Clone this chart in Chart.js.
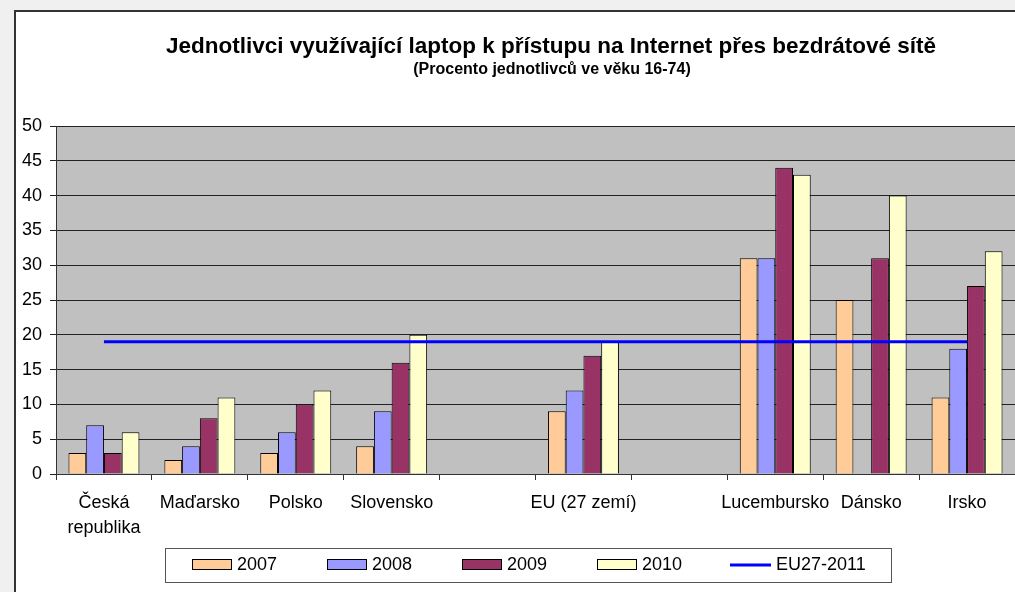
<!DOCTYPE html>
<html><head><meta charset="utf-8">
<script src="https://cdn.jsdelivr.net/npm/chart.js@4/dist/chart.umd.min.js"></script>
<style>html,body{margin:0;padding:0;background:#f0f0f0;overflow:hidden}#wrap{position:absolute;left:0;top:0;width:1015px;height:592px}</style>
</head><body><div id="wrap"><canvas id="c" width="1015" height="592"></canvas></div>
<script>
const titleText = 'Jednotlivci využívající laptop k přístupu na Internet přes bezdrátové sítě';
const subtitleText = '(Procento jednotlivců ve věku 16-74)';
const categories = [['Česká', 'republika'], 'Maďarsko', 'Polsko', 'Slovensko', '', 'EU (27 zemí)', '', 'Lucembursko', 'Dánsko', 'Irsko'];
const seriesNames = ['2007', '2008', '2009', '2010'];
const values2007 = [3, 2, 3, 4, null, 9, null, 31, 25, 11];
const values2008 = [7, 4, 6, 9, null, 12, null, 31, null, 18];
const values2009 = [3, 8, 10, 16, null, 17, null, 44, 31, 27];
const values2010 = [6, 11, 12, 20, null, 19, null, 43, 40, 32];
const lineName = 'EU27-2011';
const lineValues = [19, 19, 19, 19, 19, 19, 19, 19, 19, 19];
const yTickValues = [0, 5, 10, 15, 20, 25, 30, 35, 40, 45, 50];

const FONT = '"Liberation Sans", Arial, sans-serif';
const barColors = ['#FFCC99', '#9999FF', '#993366', '#FFFFCC'];
const barValues = [values2007, values2008, values2009, values2010];

const datasets = seriesNames.map((n, i) => ({
  type: 'bar', label: n, data: barValues[i], backgroundColor: barColors[i],
  borderColor: '#000', borderWidth: 1, order: 1,
  categoryPercentage: 0.74, barPercentage: 1.0
}));
datasets.push({
  type: 'line', label: lineName, data: lineValues, borderColor: '#0000FF',
  borderWidth: 3, pointRadius: 0, fill: false, order: 0, tension: 0
});

const decor = {
  id: 'decor',
  beforeDraw(chart) {
    const ctx = chart.ctx, ca = chart.chartArea;
    ctx.save();
    ctx.fillStyle = '#f0f0f0';
    ctx.fillRect(0, 0, chart.width, chart.height);
    ctx.fillStyle = '#ffffff';
    ctx.fillRect(15, 11, chart.width, chart.height);
    ctx.strokeStyle = '#333';
    ctx.lineWidth = 2;
    ctx.beginPath();
    ctx.moveTo(15, chart.height + 5); ctx.lineTo(15, 11); ctx.lineTo(chart.width + 5, 11);
    ctx.stroke();
    ctx.fillStyle = '#C0C0C0';
    ctx.fillRect(ca.left, ca.top, ca.right - ca.left, ca.bottom - ca.top);
    ctx.restore();
  },
  afterDraw(chart) {
    const ctx = chart.ctx;
    ctx.save();
    ctx.fillStyle = '#000';
    ctx.textAlign = 'center';
    ctx.textBaseline = 'alphabetic';
    ctx.font = 'bold 22.5px ' + FONT;
    ctx.fillText(titleText, 551, 53);
    ctx.font = 'bold 16px ' + FONT;
    ctx.fillText(subtitleText, 552, 74);
    // legend
    ctx.textBaseline = 'middle';
    ctx.fillStyle = '#fff';
    ctx.fillRect(165.5, 548.5, 726, 34);
    ctx.strokeStyle = '#555';
    ctx.lineWidth = 1;
    ctx.strokeRect(165.5, 548.5, 726, 34);
    ctx.font = '18px ' + FONT;
    ctx.textAlign = 'left';
    chart.data.datasets.forEach((ds, i) => {
      const x = 192 + i * 135;
      const y = 565;
      if (ds.type === 'line') {
        ctx.strokeStyle = ds.borderColor;
        ctx.lineWidth = 3;
        ctx.beginPath(); ctx.moveTo(x - 2, y); ctx.lineTo(x + 39, y); ctx.stroke();
        ctx.fillStyle = '#000';
        ctx.fillText(ds.label, x + 44, y);
      } else {
        ctx.fillStyle = ds.backgroundColor;
        ctx.fillRect(x + 0.5, y - 5.5, 39, 10);
        ctx.strokeStyle = '#000';
        ctx.lineWidth = 1;
        ctx.strokeRect(x + 0.5, y - 5.5, 39, 10);
        ctx.fillStyle = '#000';
        ctx.fillText(ds.label, x + 45, y);
      }
    });
    ctx.restore();
  }
};

new Chart(document.getElementById('c'), {
  type: 'bar',
  data: { labels: categories, datasets },
  plugins: [decor],
  options: {
    responsive: false, animation: false, devicePixelRatio: 1,
    layout: { padding: { left: 0, right: 0, top: 126, bottom: 0 } },
    plugins: { legend: { display: false }, title: { display: false }, tooltip: { enabled: false } },
    scales: {
      x: {
        offset: true,
        grid: { offset: true, drawOnChartArea: false, color: '#333', tickLength: 6, lineWidth: 1 },
        border: { color: '#333', width: 1 },
        ticks: { color: '#000', font: { family: FONT, size: 18, lineHeight: 1.4 }, padding: 10, maxRotation: 0, minRotation: 0, autoSkip: false },
        afterFit(s) { s.height = 118; }
      },
      y: {
        min: 0, max: 50,
        afterBuildTicks(s) { s.ticks = yTickValues.map(v => ({ value: v })); },
        grid: { color: '#222', tickLength: 6, lineWidth: 1 },
        border: { color: '#333', width: 1 },
        ticks: { color: '#000', font: { family: FONT, size: 18 }, padding: 8 },
        afterFit(s) { s.width = 56; }
      }
    }
  }
});
</script></body></html>
